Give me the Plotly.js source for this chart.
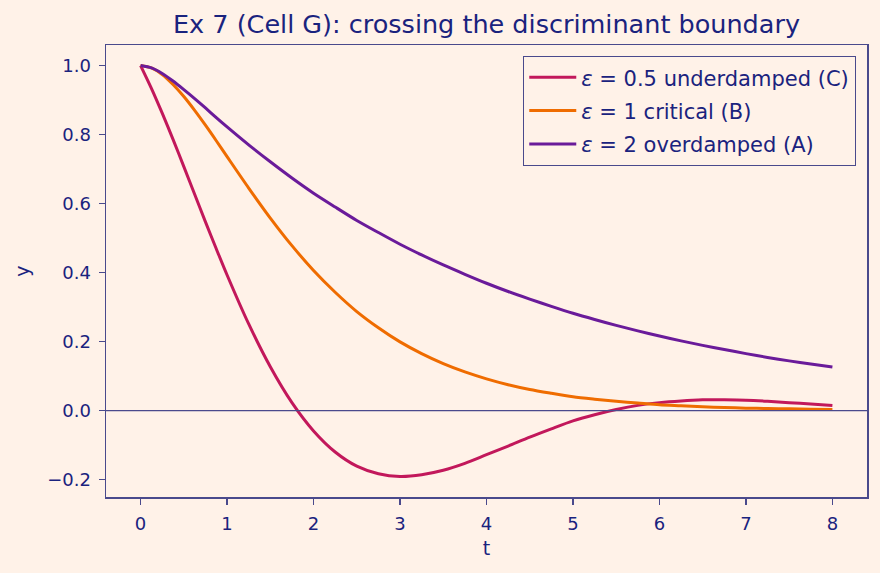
<!DOCTYPE html>
<html>
<head>
<meta charset="utf-8">
<script src="https://cdn.plot.ly/plotly-3.0.1.min.js"></script>
<style>
  html, body { margin: 0; padding: 0; background: #fff2e8; }
  #chart { width: 880px; height: 573px; }
</style>
</head>
<body>
<div id="chart"></div>
<script>
// Time samples (t): finer near the start where the curves bend fastest
const tValues = [0, 0.125, 0.25, 0.375, 0.5, 0.625, 0.75, 0.875, 1, 1.25, 1.5, 1.75, 2, 2.25,
                 2.5, 2.75, 3, 3.25, 3.5, 3.75, 4, 4.25, 4.5, 4.75, 5, 5.25, 5.5, 5.75, 6,
                 6.25, 6.5, 6.75, 7, 7.25, 7.5, 7.75, 8];

// Responses y(t) for the three damping values
const yUnderdamped = [1.000, 0.934, 0.862, 0.786, 0.707, 0.627, 0.547, 0.469, 0.393, 0.251,
                      0.127, 0.023, -0.059, -0.120, -0.161, -0.183, -0.191, -0.186, -0.173,
                      -0.153, -0.128, -0.103, -0.077, -0.053, -0.030, -0.012, 0.003, 0.015,
                      0.023, 0.028, 0.031, 0.031, 0.030, 0.027, 0.023, 0.019, 0.015];

const yCritical = [1.000, 0.993, 0.974, 0.945, 0.910, 0.870, 0.827, 0.782, 0.736, 0.645,
                   0.558, 0.478, 0.406, 0.343, 0.287, 0.240, 0.199, 0.165, 0.136, 0.112,
                   0.092, 0.075, 0.061, 0.050, 0.040, 0.033, 0.027, 0.022, 0.017, 0.014,
                   0.011, 0.009, 0.007, 0.006, 0.005, 0.004, 0.003];

const yOverdamped = [1.000, 0.993, 0.977, 0.955, 0.930, 0.904, 0.877, 0.849, 0.822, 0.770,
                     0.721, 0.674, 0.630, 0.590, 0.551, 0.516, 0.482, 0.451, 0.422, 0.395,
                     0.369, 0.345, 0.323, 0.302, 0.282, 0.264, 0.247, 0.231, 0.216, 0.202,
                     0.189, 0.177, 0.165, 0.154, 0.144, 0.135, 0.126];

const seriesNames = [
  '<i>ε</i> = 0.5 underdamped (C)',
  '<i>ε</i> = 1 critical (B)',
  '<i>ε</i> = 2 overdamped (A)'
];
const seriesColors = ['#c2185b', '#ef6c00', '#6a1b9a'];
const seriesData = [yUnderdamped, yCritical, yOverdamped];

const textColor = '#1a237e';
const frameColor = '#4a4a8c';
const bgColor = '#fff2e8';
const fontFamily = 'DejaVu Sans, sans-serif';

const traces = seriesData.map((ys, i) => ({
  x: tValues,
  y: ys,
  type: 'scatter',
  mode: 'lines',
  name: seriesNames[i],
  legendgroup: 'g' + i,
  line: { color: seriesColors[i], width: 3, shape: 'spline', smoothing: 0.8 }
}));

const axisCommon = {
  showline: true,
  mirror: true,
  linecolor: frameColor,
  linewidth: 1.5,
  ticks: 'outside',
  ticklen: 6,
  tickwidth: 1.5,
  tickcolor: frameColor,
  showgrid: false,
  zeroline: false,
  tickfont: { family: fontFamily, size: 18, color: textColor }
};

const layout = {
  width: 880,
  height: 573,
  paper_bgcolor: bgColor,
  plot_bgcolor: bgColor,
  margin: { l: 106, r: 13, t: 45, b: 76 },
  font: { family: fontFamily, color: textColor },
  title: {
    text: 'Ex 7 (Cell G): crossing the discriminant boundary',
    font: { family: fontFamily, size: 25.5, color: textColor },
    x: 0.5,
    xref: 'paper',
    y: 0.958,
    yref: 'container',
    yanchor: 'middle'
  },
  xaxis: Object.assign({}, axisCommon, {
    range: [-0.4, 8.4],
    dtick: 1,
    tick0: 0,
    ticklabelstandoff: 4,
    title: { text: 't', font: { family: fontFamily, size: 19, color: textColor }, standoff: 8 },
    automargin: true
  }),
  yaxis: Object.assign({}, axisCommon, {
    range: [-0.2505, 1.0595],
    dtick: 0.2,
    tick0: 0,
    tickformat: '.1f',
    ticklabelstandoff: 4,
    title: { text: 'y', font: { family: fontFamily, size: 19, color: textColor }, standoff: 12 },
    automargin: true
  }),
  shapes: [{
    type: 'line', xref: 'paper', x0: 0, x1: 1, yref: 'y', y0: 0, y1: 0,
    line: { color: frameColor, width: 1.3 }
  }],
  legend: {
    x: 0.9855, xanchor: 'right',
    y: 0.976, yanchor: 'top',
    bgcolor: bgColor,
    bordercolor: frameColor,
    borderwidth: 1.3,
    traceorder: 'grouped',
    tracegroupgap: 3,
    itemwidth: 47,
    font: { family: fontFamily, size: 21, color: textColor }
  },
  showlegend: true
};

Plotly.newPlot('chart', traces, layout, { displayModeBar: false, staticPlot: true });
</script>
</body>
</html>
